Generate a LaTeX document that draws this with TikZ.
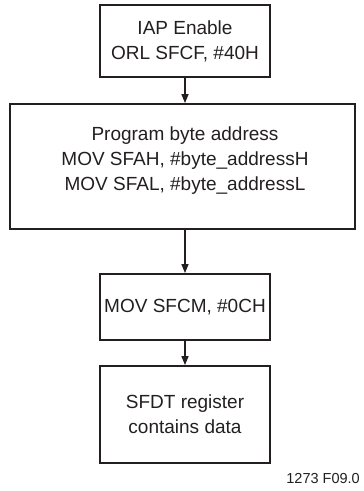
\documentclass[tikz,border=0pt]{standalone}
\usepackage{fontspec}
\setmainfont{Liberation Sans}
\usetikzlibrary{arrows.meta}
\definecolor{ink}{HTML}{231F20}
\tikzset{
  stepbox/.style={draw=ink, line width=1.8pt, text=ink, align=center,
    font=\fontsize{19}{25}\selectfont, inner sep=0pt},
  flow/.style={draw=ink, line width=1.4pt, -{Triangle[length=9pt,width=7pt]}}
}
\begin{document}
\begin{tikzpicture}[x=1pt,y=-1pt]
        \useasboundingbox (0,0) rectangle (364,491);
        \node[stepbox, minimum width=170pt, minimum height=72pt] (enable) at (185,41) {IAP Enable\\ORL SFCF, \#40H};
        \node[stepbox, minimum width=345pt, minimum height=125pt] (addr) at (182.5,166.5) {};
        \node[text=ink, align=center, font=\fontsize{19}{25}\selectfont, inner sep=0pt] (addrtext) at (185,161) {Program byte address\\MOV SFAH, \#byte\_addressH\\MOV SFAL, \#byte\_addressL};
        \node[stepbox, minimum width=170pt, minimum height=66pt] (cmd) at (185,307) {MOV SFCM, \#0CH};
        \node[stepbox, minimum width=170pt, minimum height=97pt] (data) at (185,414.5) {SFDT register\\contains data};
        \node[text=ink, font=\fontsize{14.5}{16}\selectfont, anchor=east, inner sep=0pt] (fig) at (360,479) {1273 F09.0};
        \draw[flow] (enable.south) -- (enable.south |- addr.north);
        \draw[flow] (enable.south |- addr.south) -- (cmd.north);
        \draw[flow] (cmd.south) -- (data.north);
    \end{tikzpicture}
\end{document}
